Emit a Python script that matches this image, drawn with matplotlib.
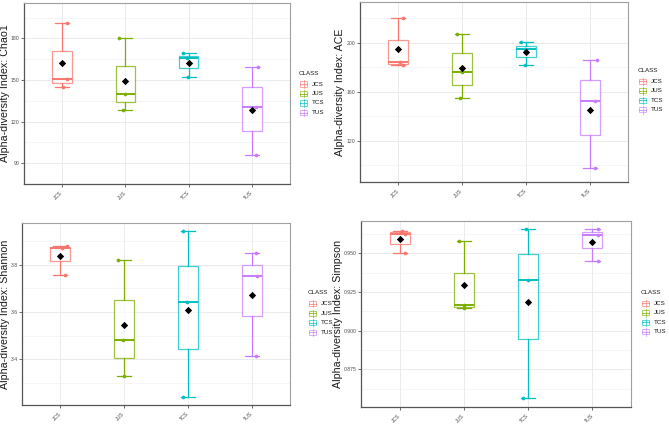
import matplotlib
matplotlib.use("Agg")
import matplotlib.pyplot as plt
import numpy as np
from matplotlib.patches import Rectangle
from matplotlib.lines import Line2D

plt.rcParams['font.family'] = ['Liberation Sans', 'DejaVu Sans']

classes = ["JCS", "JUS", "TCS", "TUS"]
colors = ["#F8766D", "#7CAE00", "#00BFC4", "#C77CFF"]

chao1 = [[145.2, 150.5, 190.9], [128.4, 139.6, 180.0], [152.0, 165.6, 169.6], [96.0, 130.7, 159.1]]
ace = [[181.5, 184.2, 219.9], [154.6, 176.3, 206.8], [181.8, 194.6, 200.5], [97.4, 152.7, 186.1]]
shannon = [[3.755, 3.871, 3.877], [3.331, 3.483, 3.820], [3.243, 3.644, 3.941], [3.413, 3.752, 3.847]]
simpson = [[0.9500, 0.9628, 0.9645], [0.9148, 0.9164, 0.9578], [0.8562, 0.9328, 0.9660], [0.9450, 0.9619, 0.9656]]

chao1_ticks = [90, 120, 150, 180]
ace_ticks = [120, 160, 200]
shannon_ticks = [3.4, 3.6, 3.8]
simpson_ticks = [0.875, 0.900, 0.925, 0.950]

# styling: horizontal jitter of the points (low, mid, high)
jit_chao = [[0.02, 0.08, 0.08], [-0.03, 0.0, -0.10], [-0.01, -0.03, -0.09], [0.07, 0.07, 0.09]]
jit_ace = [[0.08, 0.03, 0.08], [-0.03, 0.0, -0.08], [-0.01, -0.02, -0.08], [0.08, 0.08, 0.11]]
jit_sha = [[0.08, 0.03, 0.10], [0.0, -0.02, -0.09], [-0.08, -0.01, -0.08], [0.07, 0.09, 0.07]]
jit_sim = [[0.08, 0.09, 0.04], [0.0, 0.0, -0.08], [-0.08, 0.0, -0.03], [0.08, 0.09, 0.08]]

panels = [
    dict(data=chao1, ticks=chao1_ticks, label="Alpha-diversity Index: Chao1", fmt="{:.0f}",
         ylim=(85.6, 205.6), jit=jit_chao, rect=(24, 3, 290, 184), ylab_x=5, leg=(299, 73.3)),
    dict(data=ace, ticks=ace_ticks, label="Alpha-diversity Index: ACE", fmt="{:.0f}",
         ylim=(86.3, 233.2), jit=jit_ace, rect=(360, 2, 628, 182), ylab_x=340, leg=(638, 70.7)),
    dict(data=shannon, ticks=shannon_ticks, label="Alpha-diversity Index: Shannon", fmt="{:.1f}",
         ylim=(3.208, 3.975), jit=jit_sha, rect=(22, 223, 290, 405), ylab_x=5, leg=(308, 293)),
    dict(data=simpson, ticks=simpson_ticks, label="Alpha-diversity Index: Simpson", fmt="{:.3f}",
         ylim=(0.8506, 0.971), jit=jit_sim, rect=(361, 221, 631, 407), ylab_x=338, leg=(641, 292.7)),
]

W, H = 669, 424
fig = plt.figure(figsize=(W / 100, H / 100), dpi=100)


def fx(px):
    return px / W


def fy(py):
    return 1 - py / H


for p in panels:
    x0, y0, x1, y1 = p["rect"]
    ax = fig.add_axes([x0 / W, 1 - y1 / H, (x1 - x0) / W, (y1 - y0) / H])
    ax.set_xlim(0.4, 4.6)
    ax.set_ylim(*p["ylim"])
    ax.set_axisbelow(True)
    ticks = p["ticks"]
    step = ticks[1] - ticks[0]
    minor = [t - step / 2 for t in ticks] + [ticks[-1] + step / 2]
    ax.set_yticks(ticks)
    ax.set_yticklabels([p["fmt"].format(t) for t in ticks])
    ax.set_yticks(minor, minor=True)
    ax.set_xticks(range(1, 5))
    ax.set_xticklabels(classes, rotation=45, ha="right", va="center", rotation_mode="anchor")
    ax.grid(True, which="major", color="#EBEBEB", lw=0.7)
    ax.grid(True, which="minor", axis="y", color="#F2F2F2", lw=0.5)
    ax.tick_params(axis="both", which="major", labelsize=3.7, labelcolor="#4D4D4D",
                   color="#333333", length=2.0, width=0.5, pad=1.2)
    ax.tick_params(axis="x", which="major", pad=3.5)
    ax.tick_params(axis="both", which="minor", length=0)
    for side in ["top", "right"]:
        ax.spines[side].set_color("#A0A0A0")
        ax.spines[side].set_linewidth(0.8)
    for side in ["left", "bottom"]:
        ax.spines[side].set_color("#555555")
        ax.spines[side].set_linewidth(0.9)
    ax.set_ylabel(p["label"], fontsize=7.7, color="#1A1A1A", va="center")
    ax.yaxis.set_label_coords((p["ylab_x"] - x0) / (x1 - x0), 0.5)

    for i, (vals, col) in enumerate(zip(p["data"], colors)):
        pos = i + 1
        v = np.sort(np.array(vals))
        ax.boxplot([v], positions=[pos], widths=0.31, whis=1.5, manage_ticks=False,
                   showfliers=False, patch_artist=True,
                   boxprops=dict(facecolor="white", edgecolor=col, lw=0.9, alpha=0.75),
                   medianprops=dict(color=col, lw=1.4),
                   whiskerprops=dict(color=col, lw=0.9),
                   capprops=dict(color=col, lw=0.9),
                   capwidths=0.22, zorder=2)
        ax.scatter(pos + np.array(p["jit"][i]), vals, s=7, color=col, zorder=3, lw=0)
        ax.scatter([pos], [np.mean(vals)], marker="D", s=14, color="black", zorder=4, lw=0)

    # legend (drawn by hand in figure pixels)
    lx, ly = p["leg"]
    fig.text(fx(lx), fy(ly), "CLASS", fontsize=4.5, color="#1A1A1A", ha="left", va="center")
    for k, (name, col) in enumerate(zip(classes, colors)):
        cy = ly + 10.7 + k * 9.5
        kx0 = lx + 1.0
        kw, kh = 7.0, 5.0
        fig.add_artist(Line2D([fx(kx0 + kw / 2)] * 2, [fy(cy - kh / 2 - 1.2), fy(cy + kh / 2 + 1.2)],
                              color=col, lw=0.6, alpha=0.7, transform=fig.transFigure))
        fig.add_artist(Rectangle((fx(kx0), fy(cy + kh / 2)), kw / W, kh / H, facecolor="white",
                                 edgecolor=col, lw=0.6, alpha=0.7, transform=fig.transFigure))
        fig.add_artist(Line2D([fx(kx0), fx(kx0 + kw)], [fy(cy)] * 2,
                              color=col, lw=0.8, alpha=0.7, transform=fig.transFigure))
        fig.text(fx(lx + 12.5), fy(cy), name, fontsize=4.5, color="#1A1A1A", ha="left", va="center")

fig.savefig("out.png", dpi=100)
